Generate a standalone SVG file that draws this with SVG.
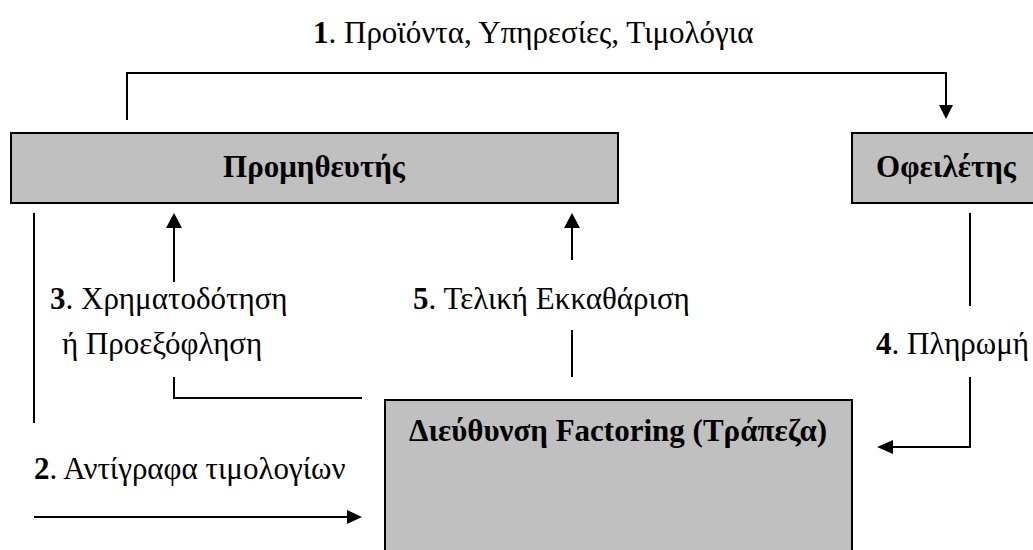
<svg xmlns="http://www.w3.org/2000/svg" width="1033" height="550" viewBox="0 0 1033 550">
<style>
.box{fill:#c0c0c0;stroke:#000;stroke-width:2}
.t{font-family:"Liberation Serif","DejaVu Serif",serif;font-size:31px;fill:#000}
.b{font-weight:bold}
.ln{fill:none;stroke:#000;stroke-width:2}
.hd{fill:#000}
</style>
<rect width="1033" height="550" fill="#fff"/>
<g id="promitheftis">
<rect class="box" x="11" y="133" width="607" height="70"/>
<text class="t b" x="314" y="177" text-anchor="middle">Προμηθευτής</text>
</g>
<g id="ofeiletis">
<rect class="box" x="852" y="133" width="200" height="70"/>
<text class="t b" x="946" y="177" text-anchor="middle">Οφειλέτης</text>
</g>
<g id="factoring">
<rect class="box" x="385" y="400" width="467" height="170"/>
<text class="t b" x="618" y="441" text-anchor="middle">Διεύθυνση Factoring (Τράπεζα)</text>
</g>
<g id="connectors">
<path class="ln" d="M127,120 V73 H946 V106"/>
<polygon class="hd" points="939,105 953,105 946,119"/>
<path class="ln" d="M34,213 V423"/>
<path class="ln" d="M34,517 H348"/>
<polygon class="hd" points="347,510 347,524 362,517"/>
<path class="ln" d="M174,282 V227"/>
<polygon class="hd" points="166,228 182,228 174,213"/>
<path class="ln" d="M174,377 V398 H362"/>
<path class="ln" d="M572,260 V227"/>
<polygon class="hd" points="564,228 580,228 572,213"/>
<path class="ln" d="M572,330 V377"/>
<path class="ln" d="M970,213 V306"/>
<path class="ln" d="M970,377 V447 H892"/>
<polygon class="hd" points="893,440 893,454 877,447"/>
</g>
<g id="labels">
<text class="t" x="313" y="43"><tspan class="b">1</tspan>. Προϊόντα, Υπηρεσίες, Τιμολόγια</text>
<text class="t" x="50" y="309"><tspan class="b">3</tspan>. Χρηματοδότηση</text>
<text class="t" x="62" y="354">ή Προεξόφληση</text>
<text class="t" x="413" y="309"><tspan class="b">5</tspan>. Τελική Εκκαθάριση</text>
<text class="t" x="876" y="354"><tspan class="b">4</tspan>. Πληρωμή</text>
<text class="t" x="34" y="479"><tspan class="b">2</tspan>. Αντίγραφα τιμολογίων</text>
</g>
</svg>
